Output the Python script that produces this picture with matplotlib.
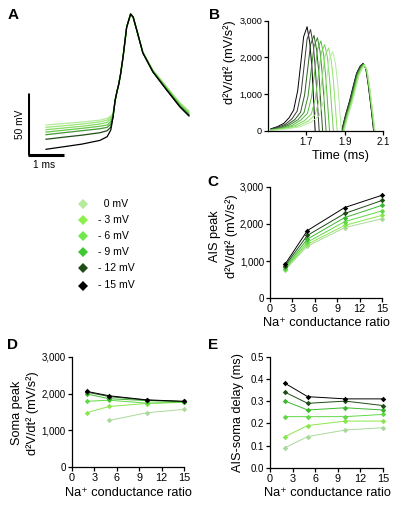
import matplotlib
matplotlib.use("Agg")
import matplotlib.pyplot as plt
from matplotlib.ticker import FuncFormatter

plt.rcParams['font.family'] = ['Liberation Sans', 'DejaVu Sans']

W, H = 401, 512

# ---------------- data ----------------
shift_labels = ["  0 mV", "- 3 mV", "- 6 mV", "- 9 mV", "- 12 mV", "- 15 mV"]
shift_colors = ["#b4eb9c", "#8cf04a", "#6ee84a", "#3ec832", "#1f4d16", "#000000"]
line_colors = ["#a9d99a", "#8ae64e", "#62d846", "#3cb82e", "#1f4d16", "#000000"]

na_ratio = [2, 5, 10, 15]

# C: AIS peak d2V/dt2 (mV/s^2)
ais_peak = [
    [760, 1400, 1900, 2140],
    [780, 1450, 1960, 2230],
    [800, 1510, 2060, 2350],
    [830, 1590, 2170, 2500],
    [870, 1690, 2280, 2630],
    [910, 1820, 2440, 2770],
]
# D: Soma peak d2V/dt2 (mV/s^2); 0 mV has no value at ratio 2
soma_peak = [
    [None, 1270, 1480, 1570],
    [1480, 1650, 1730, 1770],
    [1790, 1820, 1740, 1760],
    [1990, 1860, 1810, 1780],
    [2040, 1920, 1820, 1785],
    [2060, 1940, 1830, 1790],
]
# E: AIS-soma delay (ms)
delay = [
    [0.09, 0.14, 0.17, 0.18],
    [0.14, 0.19, 0.21, 0.21],
    [0.23, 0.23, 0.23, 0.24],
    [0.30, 0.26, 0.27, 0.26],
    [0.34, 0.29, 0.30, 0.28],
    [0.38, 0.32, 0.31, 0.31],
]

# A: membrane potential traces (ms, mV), lightest to black
ap_colors = ["#b4eb9c", "#9ee67e", "#86dc62", "#64c84a", "#3f9a30", "#1f4d16", "#000000"]
ap_time = [0.5, 1.0, 1.5, 2.0, 2.2, 2.3, 2.36, 2.42, 2.47, 2.52, 2.57, 2.64, 2.74,
           2.85, 2.92, 3.02, 3.19, 3.47, 3.85, 4.22, 4.47]
ap_traces = [
    [-55.8, -54.6, -53.4, -51.9, -50.4, -48.5, -47, -36, -29, -23, -15, -1, 23, 33.7, 31.3, 21.0, 3.2, -11.3, -24.8, -37.8, -44.3],
    [-57.7, -56.4, -55.0, -53.3, -51.8, -49.5, -47.5, -36, -29, -23, -15, -1, 23, 33.7, 31.3, 21.0, 3.0, -11.6, -25.3, -38.4, -45.2],
    [-59.6, -58.2, -56.8, -55.0, -53.6, -51.0, -48, -36, -29, -23, -15, -1, 23, 33.7, 31.3, 20.9, 2.8, -12.0, -25.8, -39.0, -46.0],
    [-61.5, -60.0, -58.5, -56.8, -55.8, -53.0, -48.5, -36, -29, -23, -15, -1, 23, 33.7, 31.3, 20.9, 2.6, -12.4, -26.4, -39.7, -46.8],
    [-63.6, -62.0, -60.4, -58.8, -57.7, -55.0, -49, -36, -29, -23, -15, -1, 23, 33.7, 31.3, 20.8, 2.5, -12.7, -26.9, -40.4, -47.5],
    [-67.3, -65.6, -64.0, -62.0, -60.4, -57.5, -49.5, -36, -29, -23, -15, -1, 23, 33.7, 31.3, 20.8, 2.4, -12.9, -27.3, -40.9, -48.1],
    [-75.4, -73.3, -71.2, -68.2, -65.2, -59.8, -50, -36, -29, -23, -15, -1, 23, 33.7, 31.3, 20.8, 2.3, -13.1, -27.6, -41.3, -48.5],
]

# B: d2V/dt2 traces (ms, mV/s^2), black to lightest
b_colors = ["#000000", "#3a3a3a", "#2d5a22", "#3c8c2c", "#55b83c", "#6fd24e", "#92e070", "#b4eb9c"]
b_times = [
    [1.515, 1.55, 1.583, 1.61, 1.634, 1.655, 1.669, 1.686, 1.704, 1.718, 1.729, 1.746, 1.76,
     1.876, 1.884, 1.905, 1.927, 1.945, 1.962, 1.98, 1.996, 2.01, 2.022, 2.039, 2.051, 2.06],
    [1.515, 1.55, 1.59, 1.625, 1.652, 1.673, 1.687, 1.704, 1.722, 1.736, 1.747, 1.767, 1.78,
     1.877, 1.885, 1.906, 1.928, 1.946, 1.963, 1.981, 1.997, 2.011, 2.023, 2.040, 2.052, 2.06],
    [1.515, 1.56, 1.60, 1.64, 1.67, 1.691, 1.705, 1.722, 1.740, 1.754, 1.765, 1.785, 1.80,
     1.879, 1.887, 1.908, 1.930, 1.948, 1.964, 1.982, 1.998, 2.012, 2.024, 2.041, 2.053, 2.062],
    [1.515, 1.57, 1.61, 1.655, 1.688, 1.709, 1.723, 1.740, 1.758, 1.772, 1.783, 1.803, 1.82,
     1.881, 1.889, 1.910, 1.932, 1.950, 1.966, 1.984, 1.999, 2.013, 2.025, 2.042, 2.054, 2.062],
    [1.515, 1.58, 1.625, 1.67, 1.706, 1.727, 1.741, 1.758, 1.776, 1.790, 1.801, 1.821, 1.84,
     1.883, 1.891, 1.912, 1.934, 1.952, 1.968, 1.986, 2.000, 2.014, 2.026, 2.043, 2.055, 2.063],
    [1.515, 1.59, 1.64, 1.69, 1.726, 1.747, 1.761, 1.778, 1.796, 1.810, 1.821, 1.841, 1.86,
     1.885, 1.893, 1.914, 1.936, 1.954, 1.970, 1.988, 2.001, 2.015, 2.027, 2.044, 2.056, 2.064],
    [1.515, 1.60, 1.655, 1.71, 1.746, 1.767, 1.781, 1.798, 1.816, 1.830, 1.841, 1.861, 1.875,
     1.887, 1.895, 1.916, 1.938, 1.956, 1.972, 1.990, 2.002, 2.016, 2.028, 2.045, 2.057, 2.065],
    [1.515, 1.61, 1.67, 1.73, 1.768, 1.789, 1.803, 1.820, 1.838, 1.852, 1.863, 1.883, 1.886,
     1.889, 1.897, 1.918, 1.940, 1.958, 1.974, 1.992, 2.003, 2.017, 2.029, 2.046, 2.058, 2.066],
]
b_values = [
    [60, 120, 210, 360, 571, 1100, 1749, 2565, 2837, 2400, 1749, 0, -300,
     -300, 0, 450, 843, 1230, 1569, 1760, 1841, 1700, 1296, 571, 0, -300],
    [50, 100, 180, 330, 540, 1050, 1700, 2500, 2760, 2340, 1700, 0, -300,
     -300, 0, 445, 835, 1220, 1558, 1750, 1835, 1695, 1290, 565, 0, -300],
    [40, 90, 170, 310, 510, 980, 1600, 2350, 2600, 2200, 1600, 0, -300,
     -300, 0, 440, 828, 1210, 1548, 1740, 1828, 1688, 1284, 560, 0, -300],
    [35, 85, 160, 300, 500, 950, 1560, 2300, 2540, 2150, 1560, 0, -300,
     -300, 0, 435, 820, 1200, 1538, 1732, 1822, 1682, 1278, 556, 0, -300],
    [30, 80, 150, 290, 480, 920, 1500, 2220, 2450, 2080, 1500, 0, -300,
     -300, 0, 430, 812, 1190, 1528, 1724, 1815, 1676, 1272, 552, 0, -300],
    [25, 75, 140, 280, 460, 880, 1440, 2130, 2350, 2000, 1440, 0, -300,
     -300, 0, 425, 805, 1180, 1518, 1716, 1808, 1670, 1266, 548, 0, -300],
    [20, 70, 130, 270, 440, 850, 1380, 2050, 2260, 1920, 1380, 0, -300,
     -300, 0, 420, 798, 1170, 1508, 1708, 1800, 1664, 1260, 544, 0, -300],
    [15, 65, 120, 260, 420, 810, 1320, 1960, 2160, 1830, 1320, 0, -300,
     -300, 0, 415, 790, 1160, 1498, 1700, 1792, 1658, 1254, 540, 0, -300],
]

# ---------------- helpers ----------------
fig = plt.figure(figsize=(W / 100, H / 100), dpi=100)


def px_axes(left, top, right, bottom):
    return fig.add_axes([left / W, 1 - bottom / H, (right - left) / W, (bottom - top) / H])


comma = FuncFormatter(lambda v, p: f"{int(round(v)):,}")
TICK_FS = 7.0
LABEL_FS = 9.2


def style_axes(ax):
    for s in ["top", "right"]:
        ax.spines[s].set_visible(False)
    for s in ["left", "bottom"]:
        ax.spines[s].set_linewidth(0.9)
    ax.tick_params(direction="out", length=3, width=0.9, labelsize=TICK_FS, pad=1.2)


# overlay for text / legend in pixel coordinates
ov = fig.add_axes([0, 0, 1, 1])
ov.set_xlim(0, W)
ov.set_ylim(H, 0)
ov.axis("off")

# ---------------- Panel A ----------------
axA = px_axes(28, 5, 200, 160)
axA.set_xlim(0, 172 / 36)
axA.set_ylim(-84.03, 40.97)
axA.axis("off")
for tr, c in zip(ap_traces, ap_colors):
    axA.plot(ap_time, tr, color=c, lw=0.9, solid_joinstyle="round")
axA.plot([0, 0], [-80, -30], color="black", lw=2.2, solid_capstyle="butt")
axA.plot([0, 1], [-80, -80], color="black", lw=2.2, solid_capstyle="butt")
ov.text(20, 124, "50 mV", rotation=90, ha="center", va="center", fontsize=7.3)
ov.text(44, 164.5, "1 ms", ha="center", va="center", fontsize=7.3)

# ---------------- Panel B ----------------
axB = px_axes(268, 20.7, 383, 131)
for t, v, c in zip(b_times, b_values, b_colors):
    axB.plot(t, v, color=c, lw=0.7)
axB.set_xlim(1.5, 2.1)
axB.set_ylim(0, 3000)
axB.set_xticks([1.7, 1.9, 2.1])
axB.set_xticklabels(["1.7", "1.9", "2.1"])
axB.set_yticks([0, 1000, 2000, 3000])
axB.yaxis.set_major_formatter(comma)
style_axes(axB)
axB.tick_params(axis="y", labelsize=6.6)
ov.text(230, 62, "d²V/dt² (mV/s²)", rotation=90, ha="center", va="center", fontsize=LABEL_FS)
ov.text(341, 155.5, "Time (ms)", ha="center", va="center", fontsize=LABEL_FS)


def ratio_panel(ax, data, ylim, yticks, fmt):
    for vals, c in zip(data, line_colors):
        xs = [x for x, v in zip(na_ratio, vals) if v is not None]
        ys = [v for v in vals if v is not None]
        ax.plot(xs, ys, color=c, lw=0.7, marker="D", markersize=2.8, markeredgewidth=0)
    ax.set_xlim(0, 15)
    ax.set_ylim(*ylim)
    ax.set_xticks([0, 3, 6, 9, 12, 15])
    ax.set_yticks(yticks)
    ax.yaxis.set_major_formatter(fmt)
    style_axes(ax)
    ax.tick_params(axis="x", labelsize=7.8)
    for ln in ax.lines:
        ln.set_clip_on(False)


# ---------------- Panel C ----------------
axC = px_axes(270, 186.7, 382, 298.3)
ratio_panel(axC, ais_peak, (0, 3000), [0, 1000, 2000, 3000], comma)
ov.text(223.5, 236.5, "AIS peak\nd²V/dt² (mV/s²)", rotation=90, ha="center", va="center",
        fontsize=LABEL_FS, linespacing=1.35, multialignment="center")
ov.text(326, 323, "Na⁺ conductance ratio", ha="center", va="center", fontsize=LABEL_FS)

# ---------------- Panel D ----------------
axD = px_axes(71.7, 356.7, 184, 467.3)
ratio_panel(axD, soma_peak, (0, 3000), [0, 1000, 2000, 3000], comma)
ov.text(25, 413, "Soma peak\nd²V/dt² (mV/s²)", rotation=90, ha="center", va="center",
        fontsize=LABEL_FS, linespacing=1.35, multialignment="center")
ov.text(128, 493.5, "Na⁺ conductance ratio", ha="center", va="center", fontsize=LABEL_FS)

# ---------------- Panel E ----------------
axE = px_axes(270, 356.7, 383, 467.7)
ratio_panel(axE, delay, (0, 0.5), [0, 0.1, 0.2, 0.3, 0.4, 0.5],
            FuncFormatter(lambda v, p: f"{v:.1f}"))
ov.text(238, 413, "AIS-soma delay (ms)", rotation=90, ha="center", va="center", fontsize=LABEL_FS)
ov.text(327, 493.5, "Na⁺ conductance ratio", ha="center", va="center", fontsize=LABEL_FS)

# ---------------- Legend ----------------
leg_y = [204, 219.8, 235.8, 251.8, 268.3, 285.5]
for lab, c, y in zip(shift_labels, shift_colors, leg_y):
    ov.plot([83.3], [y], marker="D", color=c, markersize=5, markeredgewidth=0)
    ov.text(98.5, y, lab, ha="left", va="center", fontsize=7.6)

# ---------------- Panel letters ----------------
for lab, (x, y) in zip(["A", "B", "C", "D", "E"],
                       [(13, 15), (215, 15), (213, 182), (12, 345), (213, 345)]):
    ov.text(x, y, lab, ha="center", va="center", fontsize=11, fontweight="bold")

fig.savefig("out.png", dpi=100)
